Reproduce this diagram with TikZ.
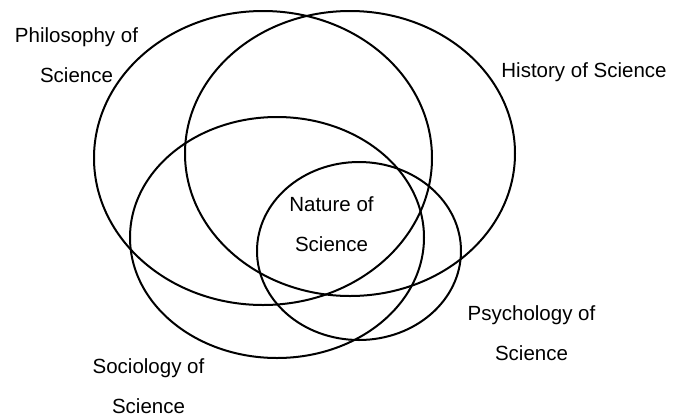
\documentclass[tikz,border=0pt]{standalone}
\usepackage{fontspec}
\setmainfont{Liberation Sans}
\usepackage{tikz}
\tikzset{
	setline/.style={line width=2pt, color=black},
	setname/.style={inner sep=0pt, align=center, anchor=base,
		font=\fontsize{20.5}{40}\selectfont}
}

\begin{document}
\begin{tikzpicture}[x=1pt, y=-1pt]
		%%%%% START %%%%%
		
		\useasboundingbox (0, 0) rectangle (673, 416);
		
		\draw[setline] (263, 158) ellipse [x radius=169, y radius=147];
		\draw[setline] (350, 153.5) ellipse [x radius=165, y radius=142.5];
		\draw[setline] (277, 237.5) ellipse [x radius=147, y radius=120.5];
		\draw[setline] (359, 251) ellipse [x radius=102, y radius=89];
		
		% base anchor sits on the last line
		\node[setname] (philo) at (76.5, 82) {Philosophy of\\Science};
		\node[setname] (hist) at (584, 77) {History of Science};
		\node[setname] (nature) at (331.5, 251) {Nature of\\Science};
		\node[setname] (psych) at (531.5, 360) {Psychology of\\Science};
		\node[setname] (socio) at (148.5, 413) {Sociology of\\Science};
		
		%%%%% END %%%%%
	\end{tikzpicture}
\end{document}
